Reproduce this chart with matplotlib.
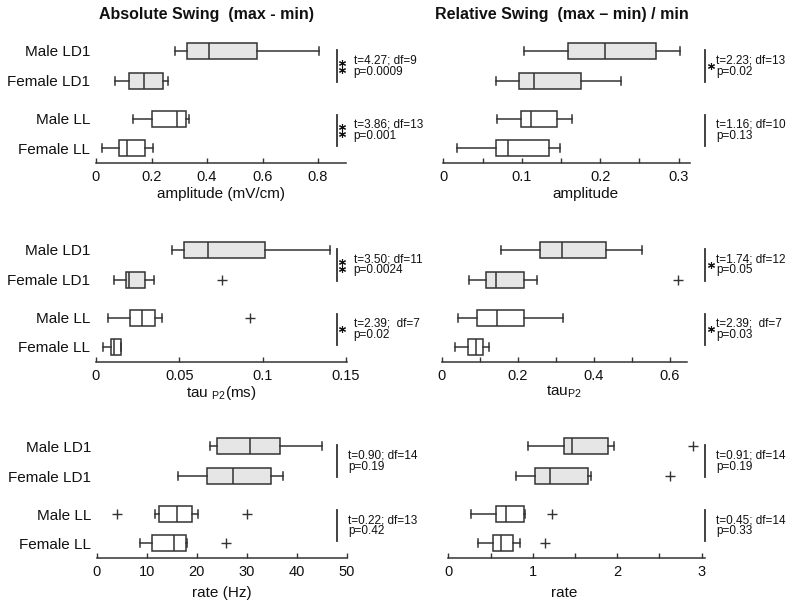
import matplotlib
matplotlib.use('Agg')
import matplotlib.pyplot as plt
from matplotlib.transforms import blended_transform_factory as btf

plt.rcParams['font.family'] = ['Liberation Sans', 'DejaVu Sans']
plt.rcParams['mathtext.fontset'] = 'custom'
plt.rcParams['mathtext.rm'] = 'Liberation Sans'
plt.rcParams['mathtext.it'] = 'Liberation Sans:italic'

groups = ['Male LD1', 'Female LD1', 'Male LL', 'Female LL']

# five-number summaries per group: (whisker low, Q1, median, Q3, whisker high)
abs_amp = [(0.285, 0.329, 0.408, 0.581, 0.804),
           (0.068, 0.120, 0.173, 0.243, 0.261),
           (0.134, 0.203, 0.291, 0.323, 0.335),
           (0.020, 0.084, 0.110, 0.177, 0.207)]
abs_amp_out = [[], [], [], []]

rel_amp = [(0.103, 0.159, 0.206, 0.271, 0.302),
           (0.067, 0.097, 0.115, 0.176, 0.227),
           (0.069, 0.099, 0.112, 0.145, 0.164),
           (0.018, 0.067, 0.083, 0.135, 0.149)]
rel_amp_out = [[], [], [], []]

abs_tau = [(0.0454, 0.053, 0.0674, 0.1014, 0.1404),
           (0.011, 0.0178, 0.020, 0.0294, 0.0348),
           (0.007, 0.0204, 0.0278, 0.0354, 0.0394),
           (0.004, 0.0092, 0.0110, 0.0148, 0.0150)]
abs_tau_out = [[], [0.0754], [0.0924], []]

rel_tau = [(0.156, 0.258, 0.317, 0.431, 0.527),
           (0.073, 0.116, 0.142, 0.216, 0.250),
           (0.042, 0.094, 0.145, 0.215, 0.318),
           (0.035, 0.068, 0.090, 0.109, 0.125)]
rel_tau_out = [[], [0.622], [], []]

abs_rate = [(22.7, 24.0, 30.7, 36.7, 45.0),
            (16.3, 22.1, 27.3, 34.9, 37.2),
            (11.7, 12.4, 16.0, 19.0, 20.2),
            (8.7, 11.1, 15.5, 17.8, 18.0)]
abs_rate_out = [[], [], [4.0, 30.0], [25.9]]

rel_rate = [(0.94, 1.37, 1.47, 1.89, 1.96),
            (0.80, 1.03, 1.21, 1.65, 1.69),
            (0.27, 0.57, 0.68, 0.90, 0.91),
            (0.35, 0.53, 0.62, 0.77, 0.85)]
rel_rate_out = [[2.90], [2.63], [1.23], [1.15]]

# statistics text: (t-line, p-line, n stars) for LD1 pair and LL pair
abs_amp_stats = [('t=4.27; df=9', 'p=0.0009', 2), ('t=3.86; df=13', 'p=0.001', 2)]
rel_amp_stats = [('t=2.23; df=13', 'p=0.02', 1), ('t=1.16; df=10', 'p=0.13', 0)]
abs_tau_stats = [('t=3.50; df=11', 'p=0.0024', 2), ('t=2.39;  df=7', 'p=0.02', 1)]
rel_tau_stats = [('t=1.74; df=12', 'p=0.05', 1), ('t=2.39;  df=7', 'p=0.03', 1)]
abs_rate_stats = [('t=0.90; df=14', 'p=0.19', 0), ('t=0.22; df=13', 'p=0.42', 0)]
rel_rate_stats = [('t=0.91; df=14', 'p=0.19', 0), ('t=0.45; df=14', 'p=0.33', 0)]

# tick values / labels
abs_amp_ticks = [0, 0.2, 0.4, 0.6, 0.8]; abs_amp_tl = ['0', '0.2', '0.4', '0.6', '0.8']; abs_amp_minor = []
rel_amp_ticks = [0, 0.1, 0.2, 0.3]; rel_amp_tl = ['0', '0.1', '0.2', '0.3']; rel_amp_minor = [0.05, 0.15, 0.25]
abs_tau_ticks = [0, 0.05, 0.1, 0.15]; abs_tau_tl = ['0', '0.05', '0.1', '0.15']; abs_tau_minor = []
rel_tau_ticks = [0, 0.2, 0.4, 0.6]; rel_tau_tl = ['0', '0.2', '0.4', '0.6']; rel_tau_minor = [0.1, 0.3, 0.5]
abs_rate_ticks = [0, 10, 20, 30, 40, 50]; abs_rate_tl = ['0', '10', '20', '30', '40', '50']; abs_rate_minor = []
rel_rate_ticks = [0, 1, 2, 3]; rel_rate_tl = ['0', '1', '2', '3']; rel_rate_minor = [0.5, 1.5, 2.5]

W, H = 800, 606
fig = plt.figure(figsize=(W / 100, H / 100), dpi=100)
fig.patch.set_facecolor('white')

POS = [112, 82, 44, 15]
EDGE = '#333333'
FILL = ['#e6e6e6', '#e6e6e6', 'white', 'white']
TXT = '#111111'


def panel(x0, x1, base, xmax, rows, outs, ticks, tl, minor, xlabel, lab_xy,
          stats, line_x, star_x, text_x, left):
    ax = fig.add_axes([x0 / W, 1 - base / H, (x1 - x0) / W, 125 / H])
    st = [dict(whislo=r[0], q1=r[1], med=r[2], q3=r[3], whishi=r[4], fliers=o)
          for r, o in zip(rows, outs)]
    bp = ax.bxp(st, positions=POS, widths=16, capwidths=8, orientation='horizontal',
                patch_artist=True, showfliers=True,
                boxprops=dict(edgecolor=EDGE, linewidth=1.1),
                medianprops=dict(color=EDGE, linewidth=1.1),
                whiskerprops=dict(color=EDGE, linewidth=1.1),
                capprops=dict(color=EDGE, linewidth=1.1),
                flierprops=dict(marker='+', markersize=7, markeredgecolor=EDGE,
                                markeredgewidth=1.0, linestyle='none'))
    for p, c in zip(bp['boxes'], FILL):
        p.set_facecolor(c)
    ax.set_xlim(0, xmax)
    ax.set_ylim(0, 125)
    for s in ['left', 'top', 'right']:
        ax.spines[s].set_visible(False)
    ax.spines['bottom'].set_color(EDGE)
    ax.spines['bottom'].set_linewidth(1.1)
    ax.set_xticks(ticks, tl)
    ax.set_xticks(minor, minor=True)
    ax.tick_params(axis='x', which='both', direction='in', length=3.8, width=1.0,
                   color=EDGE, pad=5, labelsize=10.5, labelcolor=TXT)
    if left:
        ax.set_yticks(POS, groups)
        ax.tick_params(axis='y', length=0, pad=4, labelsize=11, labelcolor=TXT)
    else:
        ax.set_yticks([])
    ax.set_xlabel(xlabel, fontsize=11, color=TXT)
    ax.xaxis.set_label_coords(*lab_xy)
    ax.set_facecolor('none')

    tr = btf(fig.transFigure, ax.transData)
    spans = [(81, 113), (17, 48)]
    for (tline, pline, nst), (ylo, yhi) in zip(stats, spans):
        yc = (ylo + yhi) / 2
        ax.plot([line_x / W] * 2, [ylo, yhi], transform=tr, color=EDGE, lw=1.3,
                clip_on=False)
        if nst == 2:
            ys = [yc + 3.2, yc - 3.8]
        elif nst == 1:
            ys = [yc]
        else:
            ys = []
        for y in ys:
            ax.plot([star_x / W], [y], transform=tr, marker=(6, 2, 0), ms=5,
                    mew=0.8, color=TXT, clip_on=False, linestyle='none')
        ax.text(text_x / W, yc + 5.6, tline, transform=tr, fontsize=8.5,
                color=TXT, va='center', ha='left')
        ax.text(text_x / W, yc - 5.6, pline, transform=tr, fontsize=8.5,
                color=TXT, va='center', ha='left')
    return ax


panel(96, 345.5, 163, 0.899, abs_amp, abs_amp_out, abs_amp_ticks, abs_amp_tl,
      abs_amp_minor, 'amplitude (mV/cm)', (0.5, -0.19), abs_amp_stats,
      336.5, 341.7, 353.5, True)
panel(443.3, 690, 163, 0.3145, rel_amp, rel_amp_out, rel_amp_ticks, rel_amp_tl,
      rel_amp_minor, 'amplitude', (0.578, -0.19), rel_amp_stats,
      704.5, 710.7, 716.5, False)
panel(96, 346.5, 361.7, 0.1503, abs_tau, abs_tau_out, abs_tau_ticks, abs_tau_tl,
      abs_tau_minor, r'tau $_{\mathrm{P2}}$(ms)', (0.5, -0.175), abs_tau_stats,
      336.5, 341.7, 353.5, True)
panel(441.7, 687, 361.7, 0.6447, rel_tau, rel_tau_out, rel_tau_ticks, rel_tau_tl,
      rel_tau_minor, r'tau$_{\mathrm{P2}}$', (0.5, -0.175), rel_tau_stats,
      704.5, 710.7, 716.5, False)
panel(96.7, 346.7, 558.3, 50, abs_rate, abs_rate_out, abs_rate_ticks, abs_rate_tl,
      abs_rate_minor, 'rate (Hz)', (0.5, -0.22), abs_rate_stats,
      336.5, 341.7, 348.3, True)
panel(448.3, 705, 558.3, 3.04, rel_rate, rel_rate_out, rel_rate_ticks, rel_rate_tl,
      rel_rate_minor, 'rate', (0.45, -0.22), rel_rate_stats,
      705, 710.7, 716.5, False)

fig.text(207 / W, 1 - 15 / H, 'Absolute Swing  (max - min)', fontsize=11.5,
         fontweight='bold', ha='center', va='center', color=TXT)
fig.text(562 / W, 1 - 15 / H, 'Relative Swing  (max \u2013 min) / min', fontsize=11.5,
         fontweight='bold', ha='center', va='center', color=TXT)

fig.savefig('out.png', dpi=100, facecolor='white')
